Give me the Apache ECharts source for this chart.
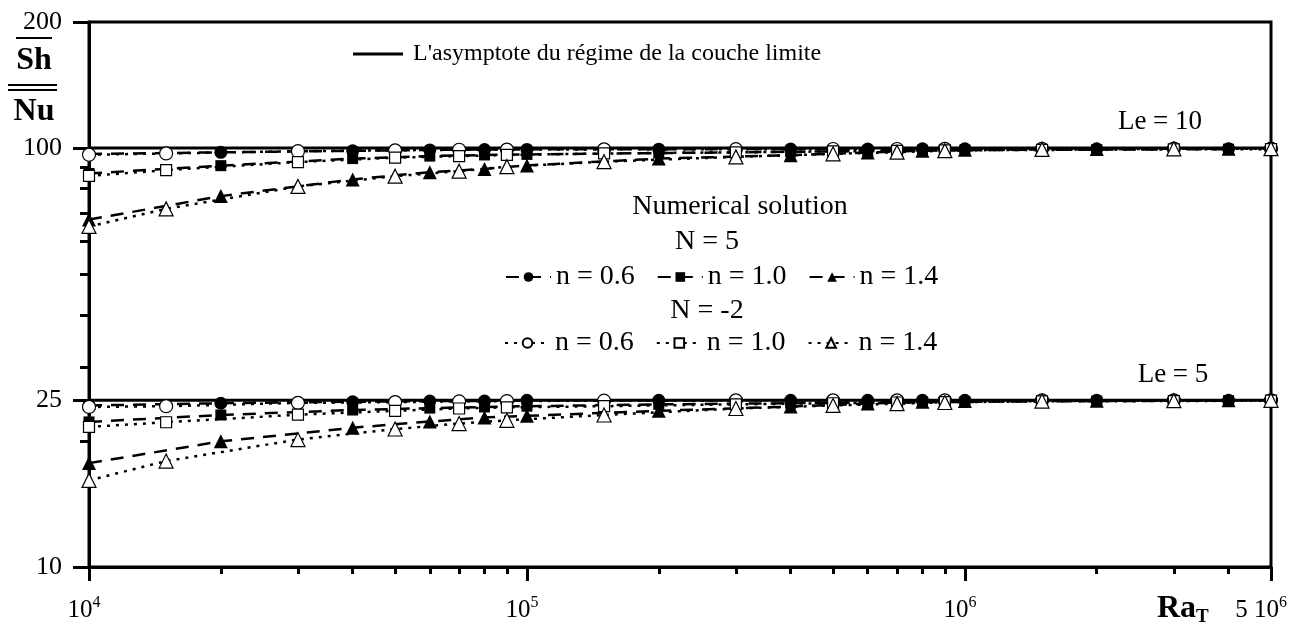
<!DOCTYPE html>
<html>
<head>
<meta charset="utf-8">
<script src="https://cdn.jsdelivr.net/npm/echarts@6/dist/echarts.min.js"></script>
<style>
  html, body { margin: 0; padding: 0; background: #fff; }
  #chart { width: 1297px; height: 626px; }
</style>
</head>
<body>
<div id="chart"></div>
<script>
// Rayleigh numbers at which each family of runs was computed
const raN5 = [1e4, 2e4, 4e4, 6e4, 8e4, 1e5, 2e5, 4e5, 6e5, 8e5, 1e6, 2e6, 4e6];
const raNm2 = [1e4, 1.5e4, 3e4, 5e4, 7e4, 9e4, 1.5e5, 3e5, 5e5, 7e5, 9e5, 1.5e6, 3e6, 5e6];

// Sh/Nu ratio, Le = 10
const le10N5n06 = [96.8, 97.7, 98.5, 99.0, 99.2, 99.3, 99.4, 99.5, 99.5, 99.6, 99.6, 99.6, 99.7];
const le10N5n10 = [87.0, 90.8, 94.4, 95.7, 96.3, 96.6, 97.3, 98.0, 98.4, 98.7, 98.9, 99.2, 99.4];
const le10N5n14 = [67.5, 76.8, 84.2, 87.6, 89.2, 90.9, 94.4, 96.2, 97.6, 98.6, 99.1, 99.5, 99.7];
const le10Nm2n06 = [96.4, 97.1, 98.3, 98.8, 99.1, 99.2, 99.3, 99.4, 99.5, 99.5, 99.6, 99.6, 99.7, 99.7];
const le10Nm2n10 = [85.8, 88.6, 92.6, 94.9, 95.7, 96.3, 97.1, 97.7, 98.2, 98.5, 98.8, 99.0, 99.3, 99.4];
const le10Nm2n14 = [65.0, 71.6, 81.0, 85.7, 88.1, 90.3, 92.8, 95.3, 96.9, 97.8, 98.6, 99.3, 99.6, 99.7];

// Sh/Nu ratio, Le = 5
const le5N5n06 = [24.3, 24.6, 24.8, 24.9, 24.9, 25.0, 25.0, 25.0, 25.0, 25.0, 25.0, 25.0, 25.0];
const le5N5n10 = [22.2, 23.06, 23.7, 23.95, 24.1, 24.2, 24.45, 24.6, 24.7, 24.75, 24.8, 24.9, 24.95];
const le5N5n14 = [17.7, 19.95, 21.5, 22.25, 22.75, 22.95, 23.6, 24.15, 24.55, 24.8, 24.9, 24.95, 25.0];
const le5Nm2n06 = [24.1, 24.2, 24.65, 24.75, 24.85, 24.9, 24.95, 25.0, 25.0, 25.0, 25.0, 25.0, 25.0, 25.0];
const le5Nm2n10 = [21.6, 22.16, 23.1, 23.6, 23.9, 24.05, 24.2, 24.45, 24.6, 24.7, 24.75, 24.85, 24.9, 24.95];
const le5Nm2n14 = [16.1, 17.9, 20.15, 21.35, 22.0, 22.4, 23.06, 23.9, 24.3, 24.55, 24.7, 24.9, 24.95, 25.0];

// Boundary-layer asymptotes (Sh/Nu = Le^2)
const asymptoteLe = [10, 5];
const raRange = [1e4, 5e6];

// Axis ticks
const xMajorTicks = [1e4, 1e5, 1e6, 5e6];
const xMinorTicks = [2e4, 3e4, 4e4, 5e4, 6e4, 7e4, 8e4, 9e4,
                     2e5, 3e5, 4e5, 5e5, 6e5, 7e5, 8e5, 9e5,
                     2e6, 3e6, 4e6];
const yMajorTicks = [10, 25, 100, 200];
const yMinorTicks = [20, 30, 40, 50, 60, 70, 80, 90];

const SERIF = "'Liberation Serif', 'Times New Roman', serif";
const INK = '#000';

const markerSize = { circle: 13, rect: 11, triangle: 14 };

function curve(name, xs, ys, marker, filled) {
  return {
    type: 'line',
    name: name,
    data: xs.map((x, i) => [x, ys[i]]),
    symbol: marker,
    symbolSize: markerSize[marker],
    showSymbol: true,
    lineStyle: { color: INK, width: 2.5, type: filled ? [13, 9] : [3, 6] },
    itemStyle: filled
      ? { color: INK, borderWidth: 0 }
      : { color: '#fff', borderColor: INK, borderWidth: 1.2 },
    emphasis: { disabled: true },
    z: 3
  };
}

const ASYM = "L'asymptote du régime de la couche limite";
const series = [];
asymptoteLe.forEach(le => {
  series.push({
    type: 'line',
    name: ASYM,
    data: raRange.map(x => [x, le * le]),
    symbol: 'none',
    lineStyle: { color: INK, width: 3, type: 'solid' },
    itemStyle: { color: INK },
    emphasis: { disabled: true },
    z: 2
  });
});

const groups = [
  [le10N5n06, le10N5n10, le10N5n14, le10Nm2n06, le10Nm2n10, le10Nm2n14],
  [le5N5n06, le5N5n10, le5N5n14, le5Nm2n06, le5Nm2n10, le5Nm2n14]
];
groups.forEach(g => {
  series.push(curve('N = 5, n = 0.6', raN5, g[0], 'circle', true));
  series.push(curve('N = 5, n = 1.0', raN5, g[1], 'rect', true));
  series.push(curve('N = 5, n = 1.4', raN5, g[2], 'triangle', true));
  series.push(curve('N = -2, n = 0.6', raNm2, g[3], 'circle', false));
  series.push(curve('N = -2, n = 1.0', raNm2, g[4], 'rect', false));
  series.push(curve('N = -2, n = 1.4', raNm2, g[5], 'triangle', false));
});

function expLabel(value) {
  let v = value < 50 ? Math.pow(10, value) : value;
  const e = Math.floor(Math.log10(v) + 1e-9);
  const m = Math.round(v / Math.pow(10, e));
  if (m === 1) return '{b|10}{s|' + e + '}{g|}';
  return '{b|' + m + ' 10}{s|' + e + '}{g2|}';
}

const legendText = { fontFamily: SERIF, fontSize: 28, color: INK, lineHeight: 30 };
const shortName = name => name.split(', ')[1];

const option = {
  animation: false,
  backgroundColor: '#fff',
  grid: {
    left: 89, right: 26, top: 22, bottom: 59,
    show: true, borderColor: INK, borderWidth: 3,
    containLabel: false, outerBoundsMode: 'none'
  },
  xAxis: [
    {
      type: 'log', logBase: 10, min: raRange[0], max: raRange[1],
      position: 'bottom',
      axisLine: { show: true, lineStyle: { color: INK, width: 3 } },
      axisTick: { show: true, customValues: xMajorTicks, length: 14, lineStyle: { color: INK, width: 3 } },
      axisLabel: {
        customValues: xMajorTicks, margin: 28, formatter: expLabel,
        rich: {
          b: { fontFamily: SERIF, fontSize: 25, color: INK, lineHeight: 30 },
          s: { fontFamily: SERIF, fontSize: 16, color: INK, lineHeight: 16, verticalAlign: 'top' },
          g: { width: 10 },
          g2: { width: 20 }
        }
      },
      splitLine: { show: false },
      minorTick: { show: false },
      name: '{r|Ra}{t|T}',
      nameLocation: 'end',
      nameGap: -114,
      nameTextStyle: {
        align: 'left', verticalAlign: 'top', padding: [24, 0, 0, 0],
        rich: {
          r: { fontFamily: SERIF, fontSize: 32, fontWeight: 'bold', color: INK, lineHeight: 36 },
          t: { fontFamily: SERIF, fontSize: 19, fontWeight: 'bold', color: INK, lineHeight: 19, verticalAlign: 'bottom' }
        }
      }
    },
    {
      type: 'log', logBase: 10, min: raRange[0], max: raRange[1],
      position: 'bottom', offset: 0,
      axisLine: { show: false },
      axisTick: { show: true, customValues: xMinorTicks, length: 7, lineStyle: { color: INK, width: 3 } },
      axisLabel: { show: false },
      splitLine: { show: false }
    }
  ],
  yAxis: [
    {
      type: 'log', logBase: 10, min: 10, max: 200,
      position: 'left',
      axisLine: { show: true, lineStyle: { color: INK, width: 3 } },
      axisTick: { show: true, customValues: yMajorTicks, length: 16, lineStyle: { color: INK, width: 3 } },
      axisLabel: {
        customValues: yMajorTicks, margin: 27,
        fontFamily: SERIF, fontSize: 26, color: INK,
        formatter: v => String(Math.round(v < 5 ? Math.pow(10, v) : v))
      },
      splitLine: { show: false }
    },
    {
      type: 'log', logBase: 10, min: 10, max: 200,
      position: 'left', offset: 0,
      axisLine: { show: false },
      axisTick: { show: true, customValues: yMinorTicks, length: 9, lineStyle: { color: INK, width: 3 } },
      axisLabel: { show: false },
      splitLine: { show: false }
    }
  ],
  legend: [
    {
      data: [{ name: ASYM, icon: 'rect' }],
      left: 353, top: 40, padding: 0,
      itemWidth: 50, itemHeight: 3, itemGap: 0,
      selectedMode: false,
      textStyle: { fontFamily: SERIF, fontSize: 24, color: INK, lineHeight: 28, padding: [0, 0, 0, 5] }
    },
    {
      data: ['N = 5, n = 0.6', 'N = 5, n = 1.0', 'N = 5, n = 1.4'],
      left: 505, top: 262, padding: 0, orient: 'horizontal',
      itemWidth: 45, itemHeight: 12, itemGap: 22,
      selectedMode: false, formatter: shortName,
      textStyle: legendText
    },
    {
      data: ['N = -2, n = 0.6', 'N = -2, n = 1.0', 'N = -2, n = 1.4'],
      left: 504, top: 328, padding: 0, orient: 'horizontal',
      itemWidth: 45, itemHeight: 12, itemGap: 22,
      selectedMode: false, formatter: shortName,
      textStyle: legendText
    }
  ],
  graphic: [
    // axis title: Sh over Nu, both averaged
    { type: 'text', x: 34, y: 61, style: { text: 'Sh', fontFamily: SERIF, fontSize: 32, fontWeight: 'bold', fill: INK, align: 'center', verticalAlign: 'middle' } },
    { type: 'text', x: 34, y: 112, style: { text: 'Nu', fontFamily: SERIF, fontSize: 32, fontWeight: 'bold', fill: INK, align: 'center', verticalAlign: 'middle' } },
    { type: 'line', shape: { x1: 16, y1: 38, x2: 52, y2: 38 }, style: { stroke: INK, lineWidth: 2 } },
    { type: 'line', shape: { x1: 8, y1: 85, x2: 57, y2: 85 }, style: { stroke: INK, lineWidth: 2 } },
    { type: 'line', shape: { x1: 8, y1: 90, x2: 57, y2: 90 }, style: { stroke: INK, lineWidth: 2 } },
    // curve family annotations
    { type: 'text', x: 740, y: 207, style: { text: 'Numerical solution', fontFamily: SERIF, fontSize: 28, fill: INK, align: 'center', verticalAlign: 'middle' } },
    { type: 'text', x: 707, y: 242, style: { text: 'N = 5', fontFamily: SERIF, fontSize: 28, fill: INK, align: 'center', verticalAlign: 'middle' } },
    { type: 'text', x: 707, y: 311, style: { text: 'N = -2', fontFamily: SERIF, fontSize: 28, fill: INK, align: 'center', verticalAlign: 'middle' } },
    { type: 'text', x: 1160, y: 122, style: { text: 'Le = 10', fontFamily: SERIF, fontSize: 27, fill: INK, align: 'center', verticalAlign: 'middle' } },
    { type: 'text', x: 1173, y: 375, style: { text: 'Le = 5', fontFamily: SERIF, fontSize: 27, fill: INK, align: 'center', verticalAlign: 'middle' } }
  ],
  series: series
};

const chart = echarts.init(document.getElementById('chart'), null, { renderer: 'canvas' });
chart.setOption(option);
</script>
</body>
</html>
